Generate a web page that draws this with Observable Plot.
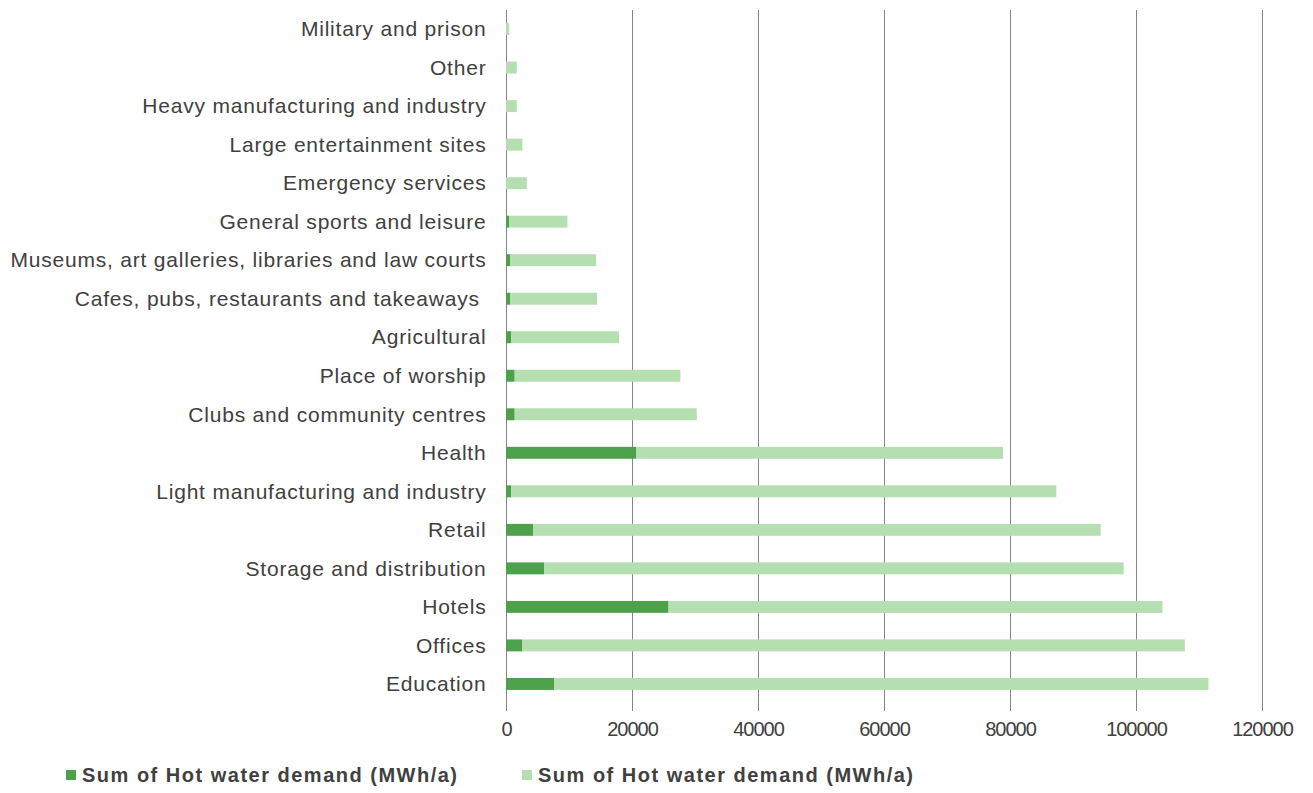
<!DOCTYPE html>
<html>
<head>
<meta charset="utf-8">
<script src="https://cdn.jsdelivr.net/npm/d3@7"></script>
<script src="https://cdn.jsdelivr.net/npm/@observablehq/plot@0.6"></script>
<style>
  html, body { margin: 0; padding: 0; background: #fff; }
  body { width: 1313px; height: 793px; position: relative; font-family: "Liberation Sans", Arial, sans-serif; }
  #legend { position: absolute; top: 764px; left: 0; width: 1313px; height: 22px; font-weight: bold; font-size: 20px; letter-spacing: 1.5px; color: #404040; }
  .item { position: absolute; top: 0; display: flex; align-items: center; height: 22px; white-space: nowrap; }
  .sw { width: 10px; height: 10px; margin-right: 6px; }
  .yax text { letter-spacing: 0.8px; }
  .xax text { letter-spacing: -1px; }
</style>
</head>
<body>
<div id="chart"></div>
<div id="legend"></div>
<script>
const categories = [
  "Military and prison",
  "Other",
  "Heavy manufacturing and industry",
  "Large entertainment sites",
  "Emergency services",
  "General sports and leisure",
  "Museums, art galleries, libraries and law courts",
  "Cafes, pubs, restaurants and takeaways ",
  "Agricultural",
  "Place of worship",
  "Clubs and community centres",
  "Health",
  "Light manufacturing and industry",
  "Retail",
  "Storage and distribution",
  "Hotels",
  "Offices",
  "Education"
];
const darkValues  = [0, 0, 0, 0, 0, 500, 700, 700, 850, 1380, 1380, 20700, 850, 4340, 6080, 25800, 2600, 7620];
const lightValues = [500, 1700, 1700, 2600, 3300, 9250, 13600, 13750, 17100, 26300, 28900, 58200, 86500, 90050, 91970, 78400, 105150, 103880];
const seriesNames = ["Sum of Hot water demand (MWh/a)", "Sum of Hot water demand (MWh/a)"];
const seriesKeys = ["dark", "light"];
const seriesColors = ["#4ca14a", "#b5deb1"];
const xTicks = [0, 20000, 40000, 60000, 80000, 100000, 120000];

const data = [];
categories.forEach((c, i) => {
  data.push({category: c, series: "dark", value: darkValues[i]});
  data.push({category: c, series: "light", value: lightValues[i]});
});

const chart = Plot.plot({
  width: 1313,
  height: 745,
  marginLeft: 506,
  marginRight: 51,
  marginTop: 10,
  marginBottom: 42,
  style: {fontFamily: "Liberation Sans, Arial, sans-serif", color: "#404040", background: "#fff"},
  x: {domain: [0, 120000]},
  y: {domain: categories, paddingInner: 0.69, paddingOuter: 0.34, round: false},
  color: {domain: seriesKeys, range: seriesColors},
  marks: [
    Plot.ruleX(xTicks, {stroke: "#858585", strokeWidth: 1}),
    Plot.barX(data, Plot.stackX({x: "value", y: "category", fill: "series", order: null})),
    Plot.axisX({ticks: xTicks, tickFormat: d3.format("d"), tickSize: 8, tickPadding: 10, fontSize: 20, stroke: "#858585", label: null, className: "xax"}),
    Plot.axisY({tickSize: 0, tickPadding: 20, fontSize: 21, label: null, className: "yax"})
  ]
});
document.getElementById("chart").appendChild(chart);

const legend = document.getElementById("legend");
const lefts = [66, 522];
seriesNames.forEach((name, i) => {
  const item = document.createElement("div");
  item.className = "item";
  item.style.left = lefts[i] + "px";
  const sw = document.createElement("div");
  sw.className = "sw";
  sw.style.background = seriesColors[i];
  const t = document.createElement("span");
  t.textContent = name;
  item.appendChild(sw);
  item.appendChild(t);
  legend.appendChild(item);
});
</script>
</body>
</html>
